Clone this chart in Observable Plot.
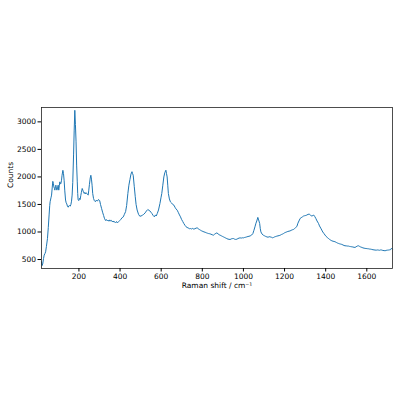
<!DOCTYPE html>
<html>
<head>
<meta charset="utf-8">
<script src="https://cdn.jsdelivr.net/npm/d3@7"></script>
<script src="https://cdn.jsdelivr.net/npm/@observablehq/plot@0.6"></script>
<style>
  html, body { margin: 0; padding: 0; background: #fff; }
  #chart svg { display: block; }
</style>
</head>
<body>
<div id="chart"></div>
<script>
const shift = [18,21,24,28,31,35,38,42,47,51,55,58,60,64,67,70,73,76,78,81,83,86,88,91,93,96,99,102,105,107,110,112,115,118,122,125,128,131,135,138,141,144,148,151,154,158,161,164,167,170,174,177,180,183,186,189,192,194,196,199,203,206,209,212,216,219,222,226,229,232,236,239,242,245,248,251,255,258,261,264,267,271,275,280,285,290,295,301,305,310,315,320,324,329,334,338,342,346,350,354,358,362,366,370,375,379,383,387,391,395,399,404,410,416,421,427,432,438,443,448,453,458,461,464,469,474,478,483,490,496,502,509,515,522,528,535,540,545,550,555,561,567,572,576,581,587,594,599,603,608,613,618,623,626,629,632,635,640,645,650,656,662,667,672,678,684,689,694,699,705,710,716,721,726,731,737,742,748,753,759,764,770,775,780,786,791,797,803,808,814,820,825,830,836,842,848,854,860,866,871,877,882,887,893,898,903,909,914,919,925,930,935,941,946,952,957,962,968,973,979,984,990,995,1000,1005,1011,1016,1022,1027,1033,1040,1046,1051,1056,1061,1065,1070,1074,1079,1082,1085,1090,1097,1103,1108,1114,1120,1125,1130,1136,1141,1146,1151,1157,1162,1168,1174,1179,1185,1190,1195,1200,1206,1211,1216,1222,1227,1232,1238,1243,1248,1254,1260,1265,1270,1276,1281,1287,1292,1297,1303,1308,1314,1320,1326,1333,1338,1342,1347,1352,1358,1365,1370,1376,1381,1386,1391,1397,1402,1408,1413,1419,1425,1430,1436,1441,1446,1452,1457,1462,1468,1473,1478,1484,1489,1494,1500,1505,1511,1516,1521,1527,1532,1538,1543,1548,1554,1559,1565,1570,1576,1581,1587,1592,1597,1603,1608,1614,1619,1624,1630,1635,1640,1646,1651,1656,1662,1667,1673,1678,1684,1689,1694,1700,1705,1711,1716,1720,1724];
const counts = [460,390,420,520,580,610,640,740,880,1080,1310,1480,1550,1620,1670,1800,1920,1880,1820,1790,1760,1830,1850,1780,1760,1800,1850,1760,1850,1910,1870,1880,1930,2030,2120,2060,1940,1760,1580,1530,1510,1470,1450,1475,1480,1470,1500,1560,1670,1900,2400,2850,3210,2950,2650,2200,1910,1700,1590,1570,1610,1590,1660,1720,1790,1760,1730,1700,1720,1690,1710,1700,1680,1670,1760,1860,1980,2030,1960,1850,1700,1610,1570,1550,1580,1560,1590,1570,1500,1430,1360,1300,1250,1210,1225,1200,1215,1195,1220,1200,1210,1185,1200,1180,1185,1170,1190,1165,1180,1195,1210,1230,1260,1275,1320,1370,1480,1700,1850,1950,2050,2095,2060,2030,1830,1640,1500,1400,1320,1287,1290,1305,1320,1347,1380,1408,1395,1383,1360,1336,1300,1275,1310,1290,1336,1400,1518,1620,1700,1850,2000,2080,2122,2060,2000,1850,1700,1600,1547,1530,1500,1487,1450,1420,1396,1350,1310,1275,1230,1190,1155,1120,1095,1082,1075,1060,1063,1055,1065,1051,1060,1070,1076,1060,1045,1033,1020,1010,1002,995,985,978,972,968,960,950,942,960,975,984,965,950,942,930,920,911,900,890,881,870,868,863,875,880,881,870,865,869,880,890,893,890,895,893,900,905,911,918,922,929,945,972,1030,1093,1160,1200,1265,1220,1155,1060,1002,965,942,930,920,911,905,915,911,905,895,900,910,918,924,930,935,942,955,962,972,985,995,1002,1010,1015,1020,1030,1040,1045,1060,1080,1100,1160,1200,1247,1260,1275,1289,1295,1300,1307,1320,1325,1305,1289,1300,1307,1280,1247,1200,1156,1110,1070,1035,1000,975,944,920,900,884,865,850,840,832,828,822,810,800,793,785,780,775,765,755,750,748,745,744,738,735,731,728,722,720,732,745,750,738,728,720,712,706,702,700,697,695,690,688,684,678,675,672,670,674,672,668,674,672,665,662,659,666,670,672,676,680,705,690];
const xTicks = [200,400,600,800,1000,1200,1400,1600];
const yTicks = [500,1000,1500,2000,2500,3000];

const data = shift.map((s, i) => ({shift: s, counts: counts[i]}));

const chart = Plot.plot({
  width: 400,
  height: 400,
  marginLeft: 41,
  marginRight: 8,
  marginTop: 107,
  marginBottom: 132,
  style: {fontFamily: "DejaVu Sans", fontSize: "7.5px", color: "#000", background: "#fff"},
  x: {domain: [18, 1725]},
  y: {domain: [337, 3261]},
  marks: [
    Plot.line(data, {x: "shift", y: "counts", stroke: "#1f77b4", strokeWidth: 1}),
    Plot.frame({stroke: "#222", strokeWidth: 0.8}),
    Plot.axisX({ticks: xTicks, tickFormat: d => String(d), tickSize: 3.5, tickPadding: 2, label: null, fontSize: 7.5}),
    Plot.axisY({ticks: yTicks, tickFormat: d => String(d), tickSize: 3.5, tickPadding: 2, label: null, fontSize: 7.5}),
    Plot.text(["Raman shift / cm⁻¹"], {frameAnchor: "bottom", dy: 19, fontSize: 7.5, fill: "#000"}),
    Plot.text(["Counts"], {frameAnchor: "left", dx: -30.5, rotate: -90, fontSize: 7.5, fill: "#000"})
  ]
});
document.getElementById("chart").appendChild(chart);
</script>
</body>
</html>
